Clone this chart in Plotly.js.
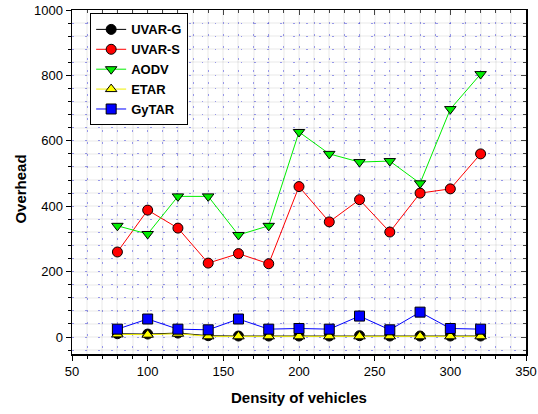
<!DOCTYPE html>
<html>
<head>
<meta charset="utf-8">
<script src="https://cdn.plot.ly/plotly-3.0.1.min.js"></script>
<style>html,body{margin:0;padding:0;background:#fff;}#chart{width:538px;height:414px;}</style>
</head>
<body>
<div id="chart"></div>
<script>
var density = [80, 100, 120, 140, 160, 180, 200, 220, 240, 260, 280, 300, 320];
var uvarG = [10, 9, 12, 4, 3, 3, 3, 3, 4, 3, 3, 3, 3];
var uvarS = [260, 388, 333, 226, 255, 224, 460, 352, 420, 321, 440, 453, 560];
var aodv  = [340, 315, 430, 430, 312, 340, 627, 560, 535, 538, 470, 697, 804];
var etar  = [8, 7, 10, 2, 2, 2, 2, 2, 2, 2, 2, 2, 2];
var gytar = [24, 55, 24, 22, 55, 24, 26, 24, 64, 22, 76, 26, 24];

var mk = function(sym, fill){ return {symbol: sym, size: 10, color: fill, line: {color: '#000', width: 1}}; };
var traces = [
  {x: [50], y: [0], xaxis: 'x2', yaxis: 'y2', mode: 'markers', marker: {opacity: 0}, showlegend: false, hoverinfo: 'skip'},
  {x: density, y: uvarG, name: 'UVAR-G', mode: 'lines+markers', line: {color: '#000', width: 1}, marker: mk('circle', '#000')},
  {x: density, y: uvarS, name: 'UVAR-S', mode: 'lines+markers', line: {color: '#ff0000', width: 1}, marker: mk('circle', '#ff0000')},
  {x: density, y: aodv, name: 'AODV', mode: 'lines+markers', line: {color: '#00ee00', width: 1}, marker: mk('triangle-down', '#00ee00')},
  {x: density, y: etar, name: 'ETAR', mode: 'lines+markers', line: {color: '#eeee00', width: 1}, marker: mk('triangle-up', '#ffff00')},
  {x: density, y: gytar, name: 'GyTAR', mode: 'lines+markers', line: {color: '#0000ff', width: 1}, marker: mk('square', '#0000ff')}
];

var dotC = 'rgba(80,80,235,0.55)';
var faintC = 'rgba(0,0,0,0.045)';
var layout = {
  width: 538, height: 414,
  margin: {l: 72, r: 12, t: 10, b: 60},
  paper_bgcolor: '#fff', plot_bgcolor: '#fff',
  font: {family: 'Liberation Sans, Arial, sans-serif', size: 13, color: '#000'},
  showlegend: true,
  legend: {x: 0.04, y: 0.99, xanchor: 'left', yanchor: 'top', bgcolor: '#fff', bordercolor: '#000', borderwidth: 1,
           font: {family: 'Liberation Sans, Arial, sans-serif', size: 13, color: '#000', weight: 'bold'}, tracegroupgap: 0,
           itemwidth: 30},
  xaxis: {
    range: [50, 350], tick0: 50, dtick: 50, showgrid: true, gridcolor: dotC, griddash: '1.5px,10.5px', gridwidth: 1,
    zeroline: false, showline: true, linecolor: '#000', linewidth: 1.5, ticks: 'outside', ticklen: 5, tickcolor: '#000',
    minor: {dtick: 10, showgrid: true, gridcolor: dotC, griddash: '1.5px,10.5px', ticks: 'outside', ticklen: 3, tickcolor: '#000'},
    tickfont: {size: 13}
  },
  yaxis: {
    range: [-52, 1000], tick0: 0, dtick: 200, showgrid: true, gridcolor: dotC, griddash: '1.5px,11.5px', gridwidth: 1,
    zeroline: false, showline: true, linecolor: '#000', linewidth: 1.5, ticks: 'outside', ticklen: 5, tickcolor: '#000',
    minor: {dtick: 40, showgrid: true, gridcolor: dotC, griddash: '1.5px,11.5px', ticks: 'outside', ticklen: 3, tickcolor: '#000'},
    tickfont: {size: 13}
  },
  xaxis2: {overlaying: 'x', side: 'top', range: [50, 350], tick0: 50, dtick: 50, showgrid: true, gridcolor: faintC, gridwidth: 2, zeroline: false,
    showline: true, linecolor: '#000', linewidth: 1.5, ticks: 'inside', ticklen: 5, showticklabels: false,
    minor: {dtick: 10, ticks: 'inside', ticklen: 3, showgrid: true, gridcolor: faintC, gridwidth: 2}},
  yaxis2: {overlaying: 'y', side: 'right', range: [-52, 1000], tick0: 0, dtick: 200, showgrid: true, gridcolor: faintC, gridwidth: 2, zeroline: false,
    showline: true, linecolor: '#000', linewidth: 1.5, ticks: 'inside', ticklen: 5, showticklabels: false,
    minor: {dtick: 40, ticks: 'inside', ticklen: 3, showgrid: true, gridcolor: faintC, gridwidth: 2}},
  annotations: [
    {text: 'Density of vehicles', xref: 'paper', yref: 'paper', x: 0.5, y: -0.125, xanchor: 'center', yanchor: 'middle',
     showarrow: false, font: {size: 15, weight: 'bold'}},
    {text: 'Overhead', xref: 'paper', yref: 'paper', x: -0.113, y: 0.48, xanchor: 'center', yanchor: 'middle', textangle: -90,
     showarrow: false, font: {size: 15, weight: 'bold'}}
  ]
};
Plotly.newPlot('chart', traces, layout, {displayModeBar: false, staticPlot: true});
</script>
</body>
</html>
